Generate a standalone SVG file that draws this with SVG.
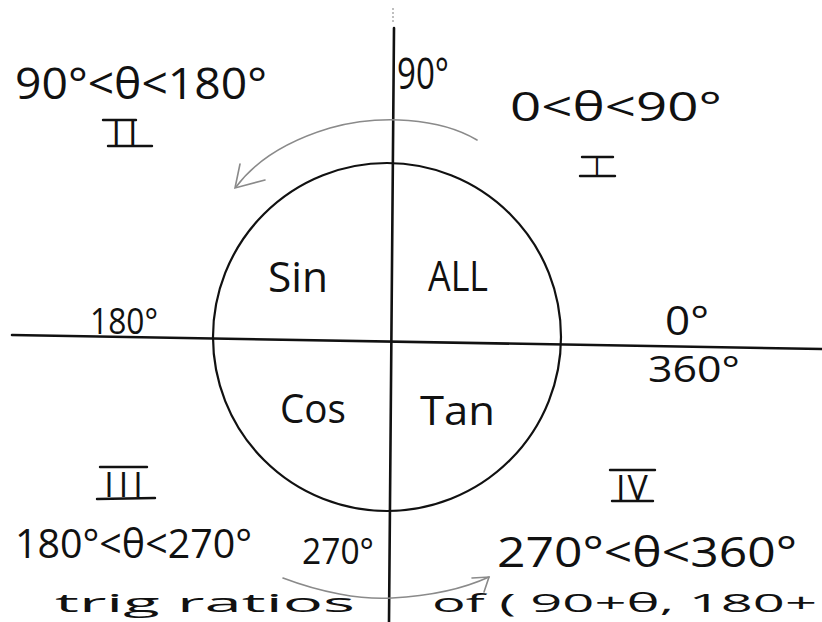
<svg xmlns="http://www.w3.org/2000/svg" width="822" height="622" viewBox="0 0 822 622">
<defs>
<style>
.t{font-family:"Open Sans","Liberation Sans",sans-serif;fill:#111;}
.ax{stroke:#111;stroke-width:2.6;fill:none;stroke-linecap:round;}
.bar{stroke:#111;stroke-width:2.4;stroke-linecap:round;}
.arr{stroke:#8a8a8a;stroke-width:1.6;fill:none;stroke-linecap:round;}
</style>
</defs>
<rect width="822" height="622" fill="#fff"/>
<g id="axes">
<line x1="393" y1="8" x2="393" y2="24" stroke="#aaa" stroke-width="1.5" stroke-dasharray="2 2"/>
<line class="ax" x1="394" y1="28" x2="389" y2="622"/>
<line class="ax" x1="12" y1="335" x2="822" y2="349"/>
</g>
<g id="circle">
<circle cx="387" cy="337" r="174" fill="none" stroke="#111" stroke-width="2.2"/>
</g>
<g id="connectors">
<path class="arr" d="M477,140 C440,118 380,114 330,128 C290,140 256,160 236,187"/>
<path class="arr" d="M240,164 L235,188 L265,180"/>
<path class="arr" d="M283,578 C320,592 360,600 392,598 C430,596 465,588 489,577"/>
<path class="arr" d="M472,578 L489,577 L484,592"/>
</g>
<g id="q2">
<text class="t" x="15" y="99" font-size="44" textLength="252" lengthAdjust="spacingAndGlyphs">90°&lt;θ&lt;180°</text>
<text class="t" x="128" y="146" font-size="34" text-anchor="middle" letter-spacing="7">II</text>
<line class="bar" x1="103" y1="120" x2="136" y2="120"/>
<line class="bar" x1="108" y1="146" x2="152" y2="146"/>
</g>
<g id="q1">
<text class="t" x="597" y="176" font-size="25" text-anchor="middle">I</text>
<line class="bar" x1="582" y1="157" x2="613" y2="157"/>
<line class="bar" x1="580" y1="176" x2="615" y2="176"/>
<text class="t" x="510" y="121" font-size="40" textLength="212" lengthAdjust="spacingAndGlyphs">0&lt;θ&lt;90°</text>
</g>
<g id="deg90">
<text class="t" x="397" y="89" font-size="44" textLength="52" lengthAdjust="spacingAndGlyphs">90°</text>
</g>
<g id="sin"><text class="t" x="268" y="292" font-size="42" textLength="60" lengthAdjust="spacingAndGlyphs">Sin</text></g>
<g id="all"><text class="t" x="428" y="291" font-size="42" textLength="60" lengthAdjust="spacingAndGlyphs">ALL</text></g>
<g id="cos"><text class="t" x="280" y="423" font-size="40" textLength="66" lengthAdjust="spacingAndGlyphs">Cos</text></g>
<g id="tan"><text class="t" x="420" y="425" font-size="40" textLength="75" lengthAdjust="spacingAndGlyphs">Tan</text></g>
<g id="deg180"><text class="t" x="90" y="334" font-size="36" textLength="68" lengthAdjust="spacingAndGlyphs">180°</text></g>
<g id="deg0"><text class="t" x="665" y="335" font-size="40" textLength="44" lengthAdjust="spacingAndGlyphs">0°</text></g>
<g id="deg360"><text class="t" x="648" y="382" font-size="36" textLength="92" lengthAdjust="spacingAndGlyphs">360°</text></g>
<g id="q3">
<text class="t" x="126" y="497" font-size="34" text-anchor="middle" letter-spacing="5">III</text>
<line class="bar" x1="100" y1="467" x2="147" y2="467"/>
<line class="bar" x1="97" y1="499" x2="155" y2="498"/>
<text class="t" x="15" y="558" font-size="40" textLength="237" lengthAdjust="spacingAndGlyphs">180°&lt;θ&lt;270°</text>
</g>
<g id="deg270"><text class="t" x="302" y="564" font-size="36" textLength="72" lengthAdjust="spacingAndGlyphs">270°</text></g>
<g id="q4">
<text class="t" x="633" y="500" font-size="34" text-anchor="middle" letter-spacing="2">IV</text>
<line class="bar" x1="610" y1="470" x2="655" y2="470"/>
<line class="bar" x1="612" y1="501" x2="653" y2="501"/>
<text class="t" x="497" y="567" font-size="42" textLength="300" lengthAdjust="spacingAndGlyphs">270°&lt;θ&lt;360°</text>
</g>
<g id="caption">
<text class="t" x="55" y="612" font-size="26" textLength="300" lengthAdjust="spacingAndGlyphs">trig ratios</text>
<text class="t" x="432" y="612" font-size="26" textLength="385" lengthAdjust="spacingAndGlyphs">of ( 90+θ, 180+</text>
</g>
</svg>
